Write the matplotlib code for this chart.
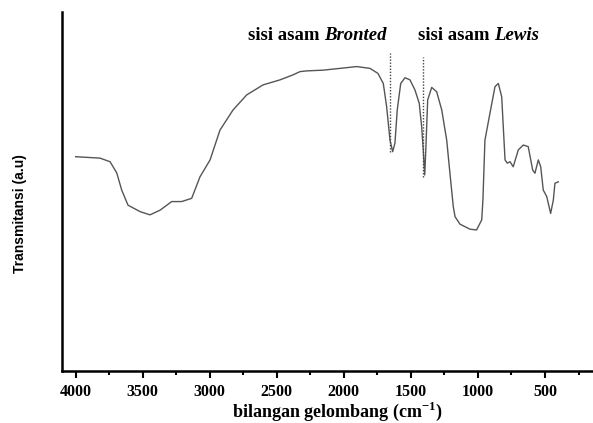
import matplotlib
matplotlib.use('Agg')
import matplotlib.pyplot as plt
from matplotlib.ticker import MultipleLocator

plt.rcParams['font.family'] = ['Liberation Serif', 'DejaVu Serif']
plt.rcParams['mathtext.fontset'] = 'custom'
plt.rcParams['mathtext.rm'] = 'Liberation Serif'
plt.rcParams['mathtext.bf'] = 'Liberation Serif:bold'

# spektrum FTIR
bilangan = [4000, 3819, 3744, 3694, 3657, 3610, 3520, 3446, 3371, 3284, 3210, 3135,
            3073, 2998, 2924, 2827, 2725, 2603, 2476, 2379, 2327, 2277, 2156, 2029,
            1904, 1805, 1746, 1706, 1681, 1656, 1636, 1619, 1602, 1576, 1544, 1507,
            1470, 1438, 1420, 1408, 1397, 1388, 1375, 1345, 1308, 1270, 1233, 1209,
            1184, 1171, 1134, 1059, 1010, 972, 963, 948, 910, 873, 848, 823, 798,
            781, 761, 737, 699, 662, 625, 592, 575, 550, 532, 513, 487, 458, 438,
            426, 401]
transmitansi = [59.7, 59.3, 58.3, 55.2, 50.4, 46.2, 44.4, 43.5, 44.8, 47.2, 47.2, 48.1,
                54.1, 58.8, 67.1, 72.7, 76.9, 79.7, 81.1, 82.5, 83.4, 83.6, 83.8, 84.3,
                84.8, 84.3, 82.9, 80.1, 73.6, 64.3, 61.1, 63.5, 72.7, 80.1, 81.7, 81.1,
                78.3, 74.6, 68.1, 61.6, 54.6, 62.5, 75.5, 79.0, 77.8, 72.7, 64.3, 55.1,
                45.8, 43.0, 40.9, 39.5, 39.3, 42.1, 47.6, 64.3, 71.9, 79.2, 80.1, 76.4,
                58.8, 57.9, 58.3, 56.9, 61.6, 62.95, 62.5, 56.0, 55.1, 58.8, 56.9,
                50.4, 48.6, 43.9, 47.6, 52.3, 52.7]

# garis penanda puncak
puncak_wn = [1656, 1408]
puncak_atas = [88.5, 87.5]
puncak_bawah = [61.1, 54.1]

fig = plt.figure(figsize=(5.93, 4.23), dpi=100)
ax = fig.add_axes([0.1046, 0.1229, 0.8954, 0.8487])

ax.plot(bilangan, transmitansi, color='#555555', lw=1.0)
for wn, y0, y1 in zip(puncak_wn, puncak_bawah, puncak_atas):
    ax.plot([wn, wn], [y0, y1], color='#444444', lw=1.0, ls=(0, (1, 1.2)))

ax.set_xlim(4102, 142)
ax.set_ylim(0, 100)
ax.spines['top'].set_visible(False)
ax.spines['right'].set_visible(False)
ax.spines['left'].set_linewidth(1.8)
ax.spines['bottom'].set_linewidth(1.8)
ax.set_yticks([])
ax.xaxis.set_major_locator(MultipleLocator(500))
ax.xaxis.set_minor_locator(MultipleLocator(250))
ax.tick_params(axis='x', which='major', length=5, width=1.5, pad=4, labelsize=11.5)
ax.tick_params(axis='x', which='minor', length=3, width=1.5)
for lab in ax.get_xticklabels():
    lab.set_fontweight('bold')

# anotasi
t1 = ax.text(2715, 92.3, 'sisi asam ', fontsize=13.5, fontweight='bold', va='baseline')
ax.annotate('Bronted', xy=(1, 0), xycoords=t1, va='bottom', fontsize=13.5,
            fontweight='bold', fontstyle='italic')
t2 = ax.text(1447, 92.3, 'sisi asam ', fontsize=13.5, fontweight='bold', va='baseline')
ax.annotate('Lewis', xy=(1, 0), xycoords=t2, va='bottom', fontsize=13.5,
            fontweight='bold', fontstyle='italic')

fig.text(337 / 593, 1 - 417 / 423, 'bilangan gelombang (cm$^{\\mathbf{-1}}$)',
         ha='center', va='baseline', fontsize=13, fontweight='bold')
fig.text(20 / 593, 1 - 214 / 423, 'Transmitansi (a.u)', rotation=90,
         ha='center', va='center', fontsize=10, fontweight='bold',
         family=['Liberation Sans', 'DejaVu Sans'])

fig.savefig('out.png', dpi=100)
